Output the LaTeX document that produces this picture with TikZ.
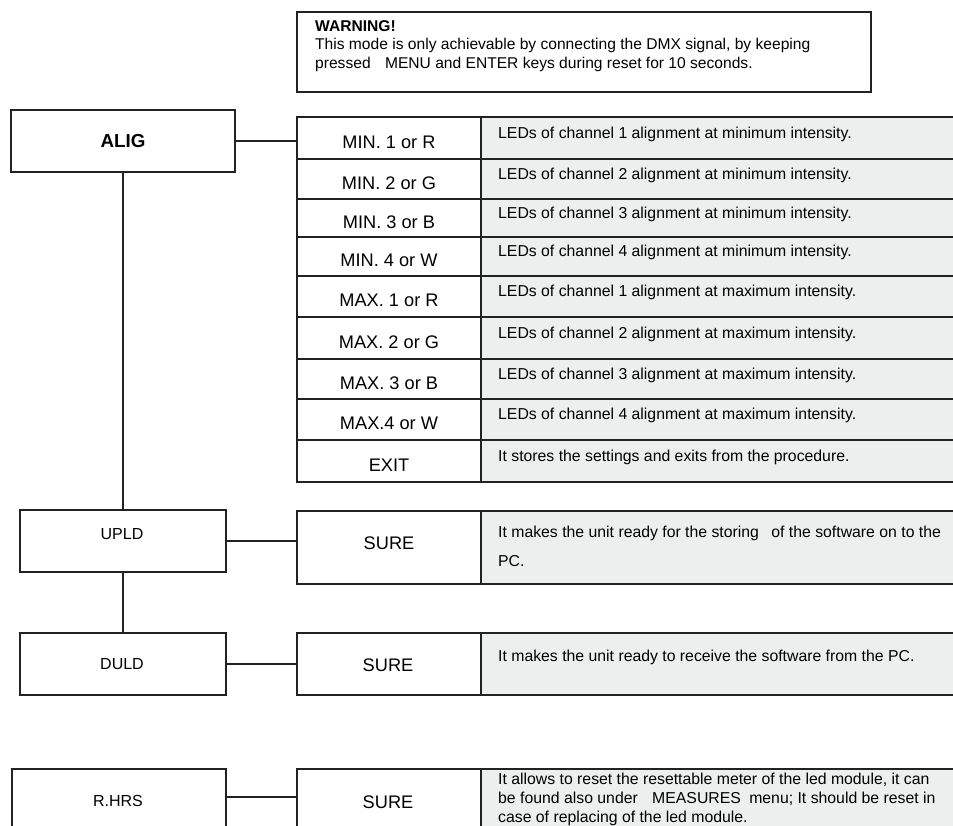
\documentclass[tikz,border=0pt]{standalone}
\usepackage{fontspec}
\setmainfont{Liberation Sans}
\definecolor{cellgray}{HTML}{EDEEEE}
\definecolor{ink}{HTML}{222222}
\begin{document}
\begin{tikzpicture}[x=1pt,y=-1pt,
  line/.style={draw=ink,line width=1.4pt},
  box/.style={line,rectangle,inner sep=0pt,fill=white},
  gcell/.style={line,rectangle,inner sep=0pt,fill=cellgray},
  midtext/.style={font=\fontsize{18.2}{20}\selectfont,inner sep=0pt},
  lefttext/.style={font=\fontsize{16}{18}\selectfont,inner sep=0pt},
  desctext/.style={font=\fontsize{15.8}{19}\selectfont,inner sep=0pt,anchor=west,align=left}]
\useasboundingbox (0,0) rectangle (953,825);
\clip (0,0) rectangle (953,825);
\fill[white] (0,0) rectangle (953,825);

% warning box
\node[box,minimum width=574pt,minimum height=80pt] (warn) at (584,52) {};
\node[desctext,font=\fontsize{15.6}{18.5}\selectfont] (warntxt) at (315,46)
 {\textbf{WARNING!}\\This mode is only achievable by connecting the DMX signal, by keeping\\pressed\hspace{10pt} MENU and ENTER keys during reset for 10 seconds.};

% ALIG
\node[box,minimum width=224pt,minimum height=62pt] (alig) at (123,141) {};
\node[font=\bfseries\fontsize{18.8}{20}\selectfont,inner sep=0pt] (aligt) at (123,141) {ALIG};

% table
\foreach \i/\ya/\yb/\lab/\desc in {
 1/117/159/{MIN. 1 or R}/{LEDs of channel 1 alignment at minimum intensity.},
 2/159/199/{MIN. 2 or G}/{LEDs of channel 2 alignment at minimum intensity.},
 3/199/237/{MIN. 3 or B}/{LEDs of channel 3 alignment at minimum intensity.},
 4/237/276/{MIN. 4 or W}/{LEDs of channel 4 alignment at minimum intensity.},
 5/276/317/{MAX. 1 or R}/{LEDs of channel 1 alignment at maximum intensity.},
 6/317/359/{MAX. 2 or G}/{LEDs of channel 2 alignment at maximum intensity.},
 7/359/399/{MAX. 3 or B}/{LEDs of channel 3 alignment at maximum intensity.},
 8/399/440/{MAX.4 or W}/{LEDs of channel 4 alignment at maximum intensity.},
 9/440/482/{EXIT}/{It stores the settings and exits from the procedure.}}{
  \pgfmathsetmacro\yc{(\ya+\yb)/2}
  \pgfmathsetmacro\hh{\yb-\ya}
  \node[box,minimum width=184pt,minimum height=\hh pt] (m\i) at (389,\yc) {};
  \node[gcell,minimum width=479pt,minimum height=\hh pt] (d\i) at (720.5,\yc) {};
  \node[midtext] (mt\i) at (389,\yc+4) {\lab};
  \node[desctext] (dt\i) at (498,\yc-4) {\desc};
}
\draw[line] (alig.east) -- (alig.east -| m1.west);

% UPLD
\node[box,minimum width=206pt,minimum height=62pt] (upld) at (123,541) {};
\node[lefttext] (upldt) at (122,534) {UPLD};
\node[box,minimum width=184pt,minimum height=73pt] (su1) at (389,547.5) {};
\node[gcell,minimum width=479pt,minimum height=73pt] (sd1) at (720.5,547.5) {};
\node[midtext] (su1t) at (389,543) {SURE};
\node[desctext,font=\fontsize{15.8}{29}\selectfont] (sd1t) at (498,546)
 {It makes the unit ready for the storing\hspace{8pt} of the software on to the\\PC.};
\draw[line] (alig.south) -- (alig.south |- upld.north);

% DULD
\node[box,minimum width=206pt,minimum height=62pt] (duld) at (123,664) {};
\node[lefttext] (duldt) at (122,664) {DULD};
\node[box,minimum width=184pt,minimum height=62pt] (su2) at (389,664) {};
\node[gcell,minimum width=479pt,minimum height=62pt] (sd2) at (720.5,664) {};
\node[midtext] (su2t) at (388,665) {SURE};
\node[desctext] (sd2t) at (498,657) {It makes the unit ready to receive the software from the PC.};
\draw[line] (upld.east) -- (upld.east -| su1.west);
\draw[line] (upld.south) -- (duld.north);
\draw[line] (duld.east) -- (duld.east -| su2.west);

% R.HRS
\node[box,minimum width=214pt,minimum height=60pt] (rhrs) at (119,799) {};
\node[lefttext] (rhrst) at (118,801) {R.HRS};
\node[box,minimum width=184pt,minimum height=60pt] (su3) at (389,799) {};
\node[gcell,minimum width=479pt,minimum height=60pt] (sd3) at (720.5,799) {};
\node[midtext] (su3t) at (388,802) {SURE};
\node[desctext,font=\fontsize{15.8}{19}\selectfont] (sd3t) at (498,799)
 {It allows to reset the resettable meter of the led module, it can\\be found also under\hspace{10pt} MEASURES\hspace{4pt} menu; It should be reset in\\case of replacing of the led module.};
\draw[line] ([yshift=2pt]rhrs.east) -- ([yshift=2pt]rhrs.east -| su3.west);
\end{tikzpicture}
\end{document}
